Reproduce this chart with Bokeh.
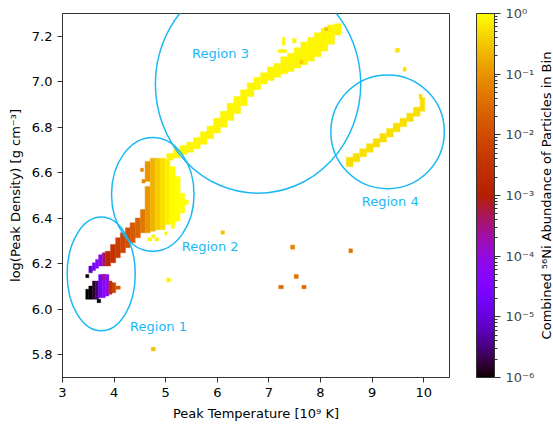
import math
from bokeh.plotting import figure
from bokeh.layouts import row
from bokeh.models import (LogColorMapper, ColorBar, LogTicker, CustomJSTickFormatter,
                          FixedTicker, LinearAxis, ColumnDataSource, Label)
from bokeh.embed import file_html
from bokeh.resources import INLINE

# ---- data: histogram cells (T_lo, T_hi, rho_lo, rho_hi, Ni56 abundance) ----
region1_lower = [
    (3.45, 3.51, 6.044, 6.088, 1e-6),
    (3.51, 3.58, 6.044, 6.102, 1e-6),
    (3.58, 3.64, 6.044, 6.124, 1.5e-6),
    (3.64, 3.70, 6.044, 6.124, 3e-6),
    (3.70, 3.77, 6.051, 6.153, 2e-5),
    (3.77, 3.83, 6.051, 6.153, 5e-5),
    (3.83, 3.90, 6.058, 6.153, 8e-5),
    (3.77, 3.83, 6.131, 6.153, 2.5e-4),
    (3.90, 3.96, 6.066, 6.124, 3e-3),
    (3.96, 4.03, 6.073, 6.117, 6e-3),
    (4.03, 4.12, 6.088, 6.102, 0.015),
    (3.67, 3.74, 6.029, 6.044, 1e-6),
    (3.45, 3.51, 6.139, 6.153, 1e-6),
]
region1_upper = [
    (3.51, 3.58, 6.160, 6.190, 8e-6),
    (3.58, 3.64, 6.170, 6.204, 2e-5),
    (3.64, 3.70, 6.180, 6.219, 4e-5),
    (3.70, 3.77, 6.190, 6.240, 8e-5),
    (3.77, 3.83, 6.190, 6.248, 3e-4),
]
stem = [
    (3.83, 3.93, 6.190, 6.255, 1.5e-3),
    (3.93, 4.03, 6.204, 6.285, 3e-3),
    (4.03, 4.12, 6.226, 6.314, 5e-3),
    (4.12, 4.22, 6.248, 6.336, 8e-3),
    (4.22, 4.31, 6.270, 6.358, 0.012),
    (4.31, 4.41, 6.292, 6.380, 0.018),
    (4.41, 4.51, 6.314, 6.401, 0.025),
]
region2 = [
    (4.51, 4.60, 6.336, 6.438, 0.045),
    (4.51, 4.57, 6.605, 6.620, 0.07),
    (4.54, 4.60, 6.555, 6.570, 0.07),
    (4.60, 4.70, 6.336, 6.540, 0.1),
    (4.60, 4.70, 6.562, 6.650, 0.1),
    (4.70, 4.80, 6.343, 6.664, 0.2),
    (4.80, 4.89, 6.350, 6.664, 0.35),
    (4.89, 4.99, 6.350, 6.664, 0.55),
    (4.99, 5.08, 6.372, 6.657, 0.75),
    (5.08, 5.18, 6.372, 6.628, 0.9),
    (5.18, 5.28, 6.387, 6.584, 0.95),
    (5.28, 5.37, 6.423, 6.510, 1.0),
    (5.37, 5.44, 6.460, 6.480, 1.0),
    (5.11, 5.17, 6.355, 6.372, 0.9),
    (4.98, 5.03, 6.327, 6.340, 0.8),
    (4.65, 4.73, 6.300, 6.314, 0.8),
    (4.79, 4.86, 6.300, 6.314, 0.8),
    (4.73, 4.79, 6.314, 6.327, 0.8),
]
region3 = [
    (5.02, 5.15, 6.655, 6.685, 0.85),
    (5.15, 5.28, 6.665, 6.705, 0.85),
    (5.28, 5.41, 6.680, 6.720, 0.85),
    (5.41, 5.54, 6.690, 6.735, 0.85),
    (5.54, 5.67, 6.705, 6.755, 0.85),
    (5.67, 5.80, 6.725, 6.780, 0.85),
    (5.80, 5.93, 6.750, 6.805, 0.85),
    (5.93, 6.06, 6.775, 6.840, 0.85),
    (6.06, 6.19, 6.800, 6.870, 0.85),
    (6.19, 6.32, 6.830, 6.905, 0.85),
    (6.32, 6.45, 6.860, 6.935, 0.85),
    (6.45, 6.58, 6.895, 6.965, 0.85),
    (6.58, 6.71, 6.935, 6.995, 0.85),
    (6.71, 6.84, 6.965, 7.020, 0.85),
    (6.84, 6.97, 6.990, 7.040, 0.85),
    (6.97, 7.10, 7.005, 7.065, 0.85),
    (7.10, 7.23, 7.020, 7.080, 0.85),
    (7.23, 7.36, 7.035, 7.110, 0.85),
    (7.36, 7.49, 7.045, 7.125, 0.85),
    (7.49, 7.62, 7.060, 7.150, 0.85),
    (7.62, 7.75, 7.075, 7.175, 0.85),
    (7.75, 7.88, 7.090, 7.195, 0.85),
    (7.88, 8.01, 7.110, 7.215, 0.85),
    (8.01, 8.14, 7.135, 7.235, 0.85),
    (8.14, 8.27, 7.165, 7.250, 0.85),
    (8.27, 8.40, 7.205, 7.255, 0.85),
    (7.26, 7.31, 7.160, 7.195, 0.85),
    (7.18, 7.34, 7.128, 7.142, 0.85),
    (7.46, 7.53, 7.170, 7.190, 0.85),
    (8.08, 8.14, 7.225, 7.240, 0.25),
    (7.60, 7.66, 7.080, 7.095, 0.35),
]
region4 = [
    (8.50, 8.63, 6.626, 6.668, 0.55),
    (8.63, 8.76, 6.648, 6.685, 0.55),
    (8.76, 8.89, 6.670, 6.705, 0.55),
    (8.89, 9.02, 6.690, 6.728, 0.55),
    (9.02, 9.15, 6.713, 6.750, 0.55),
    (9.15, 9.28, 6.735, 6.772, 0.55),
    (9.28, 9.41, 6.757, 6.795, 0.55),
    (9.41, 9.54, 6.780, 6.818, 0.55),
    (9.54, 9.67, 6.802, 6.840, 0.55),
    (9.67, 9.80, 6.825, 6.862, 0.55),
    (9.80, 9.93, 6.848, 6.888, 0.55),
    (9.93, 10.02, 6.870, 6.930, 0.55),
    (9.91, 9.97, 6.925, 6.945, 0.55),
]
scattered = [
    (4.72, 4.80, 5.817, 5.833, 0.3),
    (5.02, 5.09, 6.120, 6.137, 0.8),
    (6.07, 6.14, 6.330, 6.345, 0.3),
    (7.42, 7.50, 6.264, 6.282, 0.07),
    (8.55, 8.62, 6.248, 6.266, 0.04),
    (7.49, 7.57, 6.135, 6.153, 0.04),
    (7.19, 7.28, 6.090, 6.105, 0.03),
    (7.64, 7.72, 6.090, 6.105, 0.03),
    (9.45, 9.53, 7.130, 7.147, 0.6),
    (9.60, 9.66, 7.046, 7.064, 0.5),
]

# region ellipses: centre T, centre rho, full width, full height
ell_x = [3.75, 4.75, 6.79, 9.30]
ell_y = [6.155, 6.505, 6.99, 6.78]
ell_w = [1.32, 1.60, 3.98, 2.20]
ell_h = [0.50, 0.50, 0.96, 0.50]
region_labels = ["Region 1", "Region 2", "Region 3", "Region 4"]
label_x = [4.31, 5.31, 5.51, 8.80]
label_y = [5.925, 6.276, 7.124, 6.472]

x_ticks = [3, 4, 5, 6, 7, 8, 9, 10]
y_ticks = [5.8, 6.0, 6.2, 6.4, 6.6, 6.8, 7.0, 7.2]

# ---- gnuplot colormap ----
def gnuplot(n=256):
    cols = []
    for i in range(n):
        x = i / (n - 1)
        r = math.sqrt(x)
        g = x ** 3
        b = min(1.0, max(0.0, math.sin(2 * math.pi * x)))
        cols.append("#%02x%02x%02x" % (round(r * 255), round(g * 255), round(b * 255)))
    return cols

cells = region1_lower + region1_upper + stem + region2 + region3 + region4 + scattered
src = ColumnDataSource(dict(
    l=[c[0] for c in cells], r=[c[1] for c in cells],
    b=[c[2] for c in cells], t=[c[3] for c in cells],
    v=[c[4] for c in cells]))

mapper = LogColorMapper(palette=gnuplot(), low=1e-6, high=1.0)

FONT = "DejaVu Sans"
p = figure(width=537, height=426, x_range=(3, 10.5), y_range=(5.7, 7.3),
           output_backend="svg", toolbar_location=None,
           min_border_left=62, min_border_right=85, min_border_top=13, min_border_bottom=49)

p.quad(left="l", right="r", bottom="b", top="t", source=src,
       fill_color={"field": "v", "transform": mapper},
       line_color={"field": "v", "transform": mapper}, line_width=0.4)

p.ellipse(x=ell_x, y=ell_y, width=ell_w, height=ell_h, fill_color=None,
          line_color="#1ab8f5", line_width=1.5)

for txt, lx, ly in zip(region_labels, label_x, label_y):
    p.add_layout(Label(x=lx, y=ly, text=txt, text_align="left", text_baseline="middle",
                       text_color="#1ab8f5", text_font=FONT, text_font_size="13px"))

p.xaxis.ticker = FixedTicker(ticks=x_ticks)
p.yaxis.ticker = FixedTicker(ticks=y_ticks)
p.yaxis.formatter = CustomJSTickFormatter(code="return tick.toFixed(1);")
p.xaxis.axis_label = "Peak Temperature [10⁹ K]"
p.yaxis.axis_label = "log(Peak Density) [g cm⁻³]"
for ax in (p.xaxis, p.yaxis):
    ax.major_tick_in = 0
    ax.major_tick_out = 5
    ax.minor_tick_line_color = None
    ax.axis_line_color = "#333333"
    ax.major_tick_line_color = "#333333"
    ax.major_label_text_font = FONT
    ax.major_label_text_font_size = "13px"
    ax.major_label_text_color = "black"
    ax.axis_label_text_font = FONT
    ax.axis_label_text_font_size = "13px"
    ax.axis_label_text_font_style = "normal"
    ax.axis_label_text_color = "black"
    ax.axis_label_standoff = 6
p.grid.visible = False
p.outline_line_color = "#333333"

# spacer between frame and colour bar
spacer = LinearAxis(ticker=FixedTicker(ticks=[]), axis_line_color=None,
                    major_tick_line_color=None, minor_tick_line_color=None,
                    major_tick_in=0, major_tick_out=0, major_label_text_font_size="0px",
                    axis_label=" ", axis_label_text_font_size="18px",
                    axis_label_standoff=4)
p.add_layout(spacer, "right")

fmt = CustomJSTickFormatter(code="""
const sup = {"-":"\u207b","0":"\u2070","1":"\u00b9","2":"\u00b2","3":"\u00b3","4":"\u2074","5":"\u2075","6":"\u2076","7":"\u2077","8":"\u2078","9":"\u2079"};
const e = Math.round(Math.log10(tick));
return "10" + String(e).split("").map(c => sup[c]).join("");
""")

cb = ColorBar(color_mapper=mapper, ticker=LogTicker(num_minor_ticks=10), formatter=fmt,
              width=18, padding=0, margin=0, label_standoff=5,
              major_tick_in=0, major_tick_out=6, minor_tick_in=0, minor_tick_out=3,
              major_tick_line_color="#333333", minor_tick_line_color="#333333",
              bar_line_color="#333333",
              major_label_text_font=FONT, major_label_text_font_size="13px")
p.add_layout(cb, "right")

# narrow companion figure carrying the colour-bar title (reads bottom-to-top)
p2 = figure(width=16, height=426, x_range=(0, 1), y_range=(0, 1),
            output_backend="svg", toolbar_location=None,
            min_border_left=15, min_border_right=0, min_border_top=13, min_border_bottom=49)
p2.outline_line_color = None
p2.grid.visible = False
p2.xaxis.visible = False
p2.yaxis.ticker = FixedTicker(ticks=[])
p2.yaxis.axis_line_color = None
p2.yaxis.major_tick_line_color = None
p2.yaxis.minor_tick_line_color = None
p2.yaxis.major_tick_out = 0
p2.yaxis.major_label_text_font_size = "0px"
p2.yaxis.axis_label = "Combined ⁵⁶Ni Abundance of Particles in Bin"
p2.yaxis.axis_label_text_font = FONT
p2.yaxis.axis_label_text_font_size = "13px"
p2.yaxis.axis_label_text_font_style = "normal"
p2.yaxis.axis_label_text_color = "black"
p2.yaxis.axis_label_standoff = 0

layout = row(p, p2)
open("out.html", "w").write(file_html(layout, INLINE))
